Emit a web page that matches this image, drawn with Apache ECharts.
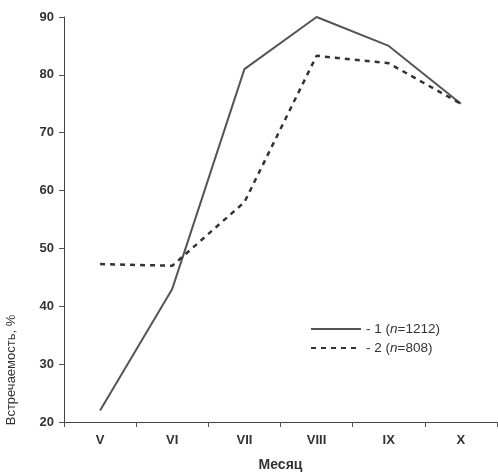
<!DOCTYPE html>
<html><head><meta charset="utf-8">
<script src="https://cdn.jsdelivr.net/npm/echarts@6/dist/echarts.min.js"></script>
<style>html,body{margin:0;padding:0;background:#fff}#c{width:498px;height:472px}</style>
</head><body><div id="c"></div>
<script>
const months = ['V','VI','VII','VIII','IX','X'];
const series1 = [22, 43, 81, 90, 85, 75];
const series2 = [47.3, 47, 58, 83.3, 82, 75];
const seriesNames = ['1', '2'];
const seriesN = ['1212', '808'];
const yTicks = [20, 30, 40, 50, 60, 70, 80, 90];

const chart = echarts.init(document.getElementById('c'));
const font = 'Liberation Sans, Arial, sans-serif';
chart.setOption({
  backgroundColor: '#fff',
  animation: false,
  grid: {left: 64, right: 1, top: 17, bottom: 50, outerBoundsMode: 'none', containLabel: false},
  legend: {
    orient: 'vertical', left: 305, top: 317, itemWidth: 50, itemHeight: 10, itemGap: 5,
    itemStyle: {opacity: 0, borderWidth: 0},
    formatter: function (name) {
      const i = seriesNames.indexOf(name);
      return '- ' + name + ' ({i|n}=' + seriesN[i] + ')';
    },
    textStyle: {fontFamily: font, fontSize: 13.5, color: '#333',
      rich: {i: {fontStyle: 'italic', fontFamily: font, fontSize: 13.5, color: '#333'}}}
  },
  xAxis: {
    type: 'category', data: months, boundaryGap: true,
    name: 'Месяц', nameLocation: 'middle', nameGap: 36,
    nameTextStyle: {fontFamily: font, fontWeight: 'bold', fontSize: 14, color: '#333'},
    axisLine: {lineStyle: {color: '#444', width: 1}},
    axisTick: {show: true, length: 5, lineStyle: {color: '#555'}},
    axisLabel: {fontFamily: font, fontWeight: 'bold', fontSize: 13, color: '#333', margin: 12}
  },
  yAxis: {
    type: 'value', min: yTicks[0], max: yTicks[yTicks.length - 1], interval: 10,
    axisLine: {show: true, lineStyle: {color: '#444', width: 1}},
    axisTick: {show: true, length: 5, lineStyle: {color: '#555'}},
    splitLine: {show: false},
    axisLabel: {fontFamily: font, fontWeight: 'bold', fontSize: 13, color: '#333', margin: 10}
  },
  graphic: [{
    type: 'text', x: 11, y: 370, rotation: Math.PI / 2,
    style: {text: 'Встречаемость, %', font: '13px ' + font, fill: '#333',
      textAlign: 'center', textVerticalAlign: 'middle'}
  }],
  series: [
    {name: seriesNames[0], type: 'line', data: series1, symbol: 'none',
     lineStyle: {color: '#555', width: 2, type: 'solid'}, itemStyle: {color: '#555'}},
    {name: seriesNames[1], type: 'line', data: series2, symbol: 'none',
     lineStyle: {color: '#333', width: 2.5, type: [5, 5]}, itemStyle: {color: '#333'}}
  ]
});
</script></body></html>
